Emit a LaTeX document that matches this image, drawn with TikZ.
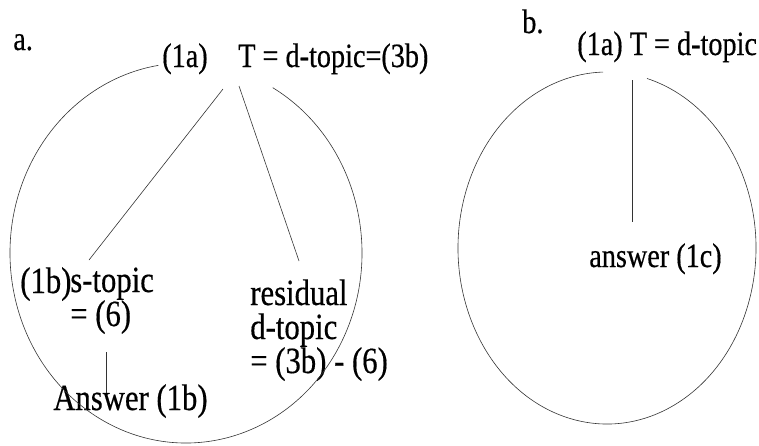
\documentclass[tikz,border=0pt]{standalone}
\usepackage{fontspec}
\setmainfont{Liberation Serif}[FakeStretch=0.83,FakeBold=0.4]
\usepackage{tikz}

\begin{document}
\begin{tikzpicture}[x=1pt,y=-1pt,line width=0.6pt,
	every node/.style={inner sep=0pt,anchor=base west},
	big/.style={font=\fontsize{34}{34}\selectfont},
	body/.style={font=\fontsize{37}{34}\selectfont,align=left}]
	\useasboundingbox (0,0) rectangle (759,445);
	% a.
	\node[big] (labA) at (13,50) {a.};
	\node[big] (oneA) at (162,67) {(1a)};
	\node[big] (topA) at (238,67) {T = d-topic=(3b)};
	\node[body] (oneB) at (20,293) {(1b)};
	\node[body] (stopic) at (70,326) {s-topic\\= (6)};
	\node[body] (resid) at (250,373) {residual\\d-topic\\= (3b) - (6)};
	\node[body] (ansA) at (53,410) {Answer (1b)};
	\draw[black!80] ([shift={(-60.5:176 and 190)}]186,253) arc[start angle=-60.5, end angle=261, x radius=176, y radius=190];
	\draw[black!80] ([shift={(-15,22)}]topA.base west) -- ([shift={(19,-66)}]stopic.base west);
	\draw[black!80] ([shift={(1,19)}]topA.base west) -- ([shift={(49,-112)}]resid.base west);
	\draw[black!80] ([shift={(36,26)}]stopic.base west) -- ([shift={(53,-17)}]ansA.base west);
	% b.
	\node[big] (labB) at (522,33) {b.};
	\node[big] (topB) at (577,55) {(1a) T = d-topic};
	\node[big] (ansB) at (589,267) {answer (1c)};
	\draw[black!80] ([shift={(-74.4:149 and 176)}]607,248) arc[start angle=-74.4, end angle=268.5, x radius=149, y radius=176];
	\draw[black!80] ([shift={(55,25)}]topB.base west) -- ([shift={(43,-45)}]ansB.base west);
\end{tikzpicture}
\end{document}
